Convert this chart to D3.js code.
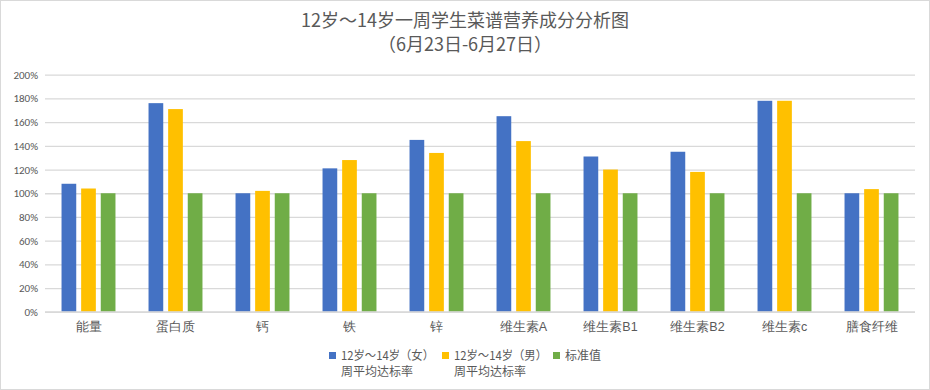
<!DOCTYPE html>
<html><head><meta charset="utf-8">
<script src="https://cdn.jsdelivr.net/npm/d3@7"></script>
<style>
html,body{margin:0;padding:0;background:#fff;}
svg{display:block;font-family:"Noto Sans CJK SC","Microsoft YaHei",sans-serif;}
</style></head>
<body><svg id="chart" width="930" height="390"></svg>
<script>
const categories = ["能量","蛋白质","钙","铁","锌","维生素A","维生素B1","维生素B2","维生素c","膳食纤维"];
const seriesNames = [["12岁～14岁（女）","周平均达标率"],["12岁～14岁（男）","周平均达标率"],["标准值"]];
const girls = [108,176,100,121,145,165,131,135,178,100];
const boys  = [104,171,102,128,134,144,120,118,178,103.5];
const standard = [100,100,100,100,100,100,100,100,100,100];
const yTicks = [0,20,40,60,80,100,120,140,160,180,200];
const colors = ["#4472c4","#ffc000","#70ad47"];
const titleLines = ["12岁～14岁一周学生菜谱营养成分分析图","（6月23日-6月27日）"];

const svg = d3.select("#chart");
const W = 930, H = 390;
const m = {left:45, right:15, top:75, bottom:78};
const x0 = d3.scaleBand().domain(categories).range([m.left, W - m.right]).paddingInner(0.38).paddingOuter(0.19);
const series = [girls, boys, standard];
const x1 = d3.scaleBand().domain([0,1,2]).range([0, x0.bandwidth()]).paddingInner(0.25);
const y = d3.scaleLinear().domain([0,200]).range([311.8, 74.7]);

svg.append("rect").attr("x",0.5).attr("y",0.5).attr("width",W-1).attr("height",H-1)
  .attr("fill","#fff").attr("stroke","#d9d9d9");

// gridlines
const yAxis = d3.axisLeft(y).tickValues(yTicks).tickFormat(d => d + "%").tickSize(-(W - m.left - m.right)).tickPadding(7);
const gy = svg.append("g").attr("transform", `translate(${m.left},0)`).call(yAxis);
gy.select(".domain").remove();
gy.selectAll("line").attr("stroke","#d9d9d9").attr("stroke-width",1.3);
gy.selectAll("text").attr("fill","#595959").style("font-size","11px").style("font-family","Calibri,Carlito,'Liberation Sans',sans-serif");

// bars
series.forEach((s, i) => {
  svg.append("g").selectAll("rect").data(s).join("rect")
    .attr("x", (d, j) => x0(categories[j]) + x1(i))
    .attr("y", d => y(d))
    .attr("width", x1.bandwidth())
    .attr("height", d => y(0) - y(d))
    .attr("fill", colors[i]);
});

// x axis
const xAxis = d3.axisBottom(x0).tickSize(0).tickPadding(10);
const gx = svg.append("g").attr("transform", `translate(0,${y(0)})`).call(xAxis);
gx.select(".domain").attr("stroke","#d9d9d9").attr("stroke-width",1.3).attr("d", `M${m.left},0H${W - m.right}`);
gx.selectAll("text").attr("fill","#595959").style("font-size","12.5px");

// title
svg.append("text").attr("x", 465).attr("y", 27).attr("text-anchor","middle")
  .attr("fill","#595959").style("font-size","18px").text(titleLines[0]);
svg.append("text").attr("x", 465).attr("y", 51).attr("text-anchor","middle")
  .attr("fill","#595959").style("font-size","18px").text(titleLines[1]);

// legend
const legX = [329, 442, 553];
seriesNames.forEach((lines, i) => {
  const g = svg.append("g");
  g.append("rect").attr("x", legX[i]).attr("y", 352).attr("width", 7).attr("height", 7).attr("fill", colors[i]);
  lines.forEach((t, k) => {
    const tx = g.append("text").attr("x", legX[i] + 12).attr("y", 360 + k * 16)
      .attr("fill","#595959").style("font-size","12px").text(t);
    if (k === 0 && lines.length > 1) tx.attr("textLength", 93).attr("lengthAdjust", "spacingAndGlyphs");
  });
});
</script></body></html>
